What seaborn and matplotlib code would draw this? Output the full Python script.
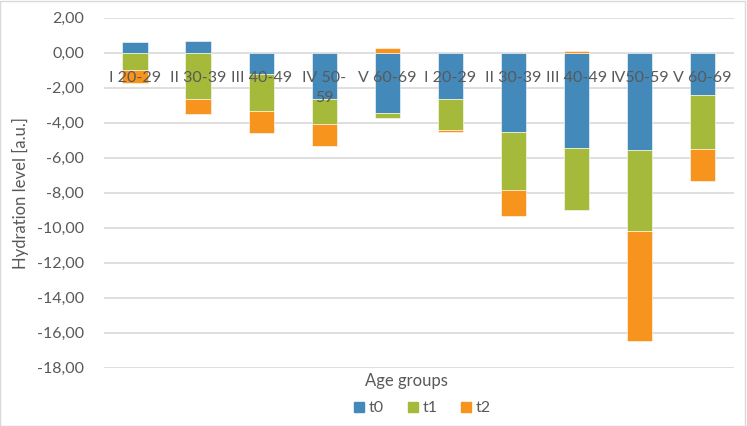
import matplotlib
matplotlib.use("Agg")
import matplotlib.pyplot as plt
import seaborn as sns
import numpy as np
import pandas as pd
from matplotlib.patches import Rectangle
from matplotlib.lines import Line2D

categories = ["I 20-29", "II 30-39", "III 40-49", "IV 50-\n59", "V 60-69",
              "I 20-29", "II 30-39", "III 40-49", "IV50-59", "V 60-69"]
t0 = [0.60, 0.69, -1.22, -2.63, -3.47, -2.63, -4.53, -5.47, -5.54, -2.42]
t1 = [-0.97, -2.67, -2.09, -1.43, -0.28, -1.77, -3.30, -3.54, -4.67, -3.11]
t2 = [-0.74, -0.84, -1.28, -1.28, 0.26, -0.15, -1.48, 0.12, -6.29, -1.81]
series_names = ["t0", "t1", "t2"]
yticks = [2, 0, -2, -4, -6, -8, -10, -12, -14, -16, -18]

colors = {"t0": "#4389B9", "t1": "#A5B93B", "t2": "#F7941D"}
gray_text = "#595959"
grid_col = "#D9D9D9"

sns.set_theme(style="white")
plt.rcParams["font.family"] = ["Lato", "DejaVu Sans"]

fig = plt.figure(figsize=(7.47, 4.26), dpi=100)
ax = fig.add_axes([0.1386, 0.1369, 0.8440, 0.8216])

pos = list(range(len(categories)))
pos_cum = np.zeros(len(pos))
neg_cum = np.zeros(len(pos))
for name, vals in zip(series_names, [t0, t1, t2]):
    vals = np.array(vals, dtype=float)
    bottoms = np.where(vals >= 0, pos_cum, neg_cum)
    df = pd.DataFrame({"pos": pos, "value": vals})
    sns.barplot(data=df, x="pos", y="value", order=pos, color=colors[name],
                width=0.4, errorbar=None, bottom=bottoms, ax=ax,
                edgecolor="white", linewidth=0.4, saturation=1, zorder=2)
    pos_cum = np.where(vals >= 0, pos_cum + vals, pos_cum)
    neg_cum = np.where(vals < 0, neg_cum + vals, neg_cum)

ax.set_ylim(-18, 2)
ax.set_xlim(-0.5, len(pos) - 0.5)
ax.set_yticks(yticks)
ax.set_yticklabels([f"{v:.2f}".replace(".", ",") for v in yticks],
                   color=gray_text, fontsize=11.5)
ax.yaxis.grid(True, color=grid_col, linewidth=1.2, zorder=0)
ax.set_axisbelow(True)
ax.tick_params(axis="y", length=0, pad=14)
ax.set_xticks([])
ax.set_xlabel("")
ax.set_ylabel("Hydration level [a.u.]", color=gray_text, fontsize=12, labelpad=6)
for s in ax.spines.values():
    s.set_visible(False)

for i, lab in zip(pos, categories):
    ax.annotate(lab, xy=(i, 0), xytext=(0, -13), textcoords="offset points",
                ha="center", va="top", color=gray_text, fontsize=11.5,
                linespacing=1.6, zorder=5)

fig.text(0.5435, 1 - 381 / 426, "Age groups", ha="center", va="center",
         color=gray_text, fontsize=12)

handles = [Line2D([0], [0], marker="s", linestyle="none", markersize=7,
                  markerfacecolor=colors[n], markeredgecolor=colors[n]) for n in series_names]
fig.legend(handles, series_names, loc="center", bbox_to_anchor=(0.5635, 1 - 408 / 426),
           ncol=3, frameon=False, fontsize=11.5, labelcolor=gray_text,
           handletextpad=0.1, columnspacing=1.3, handlelength=1.0)

fig.add_artist(Rectangle((0.0005, 0.001), 0.997, 0.997, transform=fig.transFigure,
                         fill=False, edgecolor=grid_col, linewidth=1))

fig.savefig("out.png", dpi=100)
